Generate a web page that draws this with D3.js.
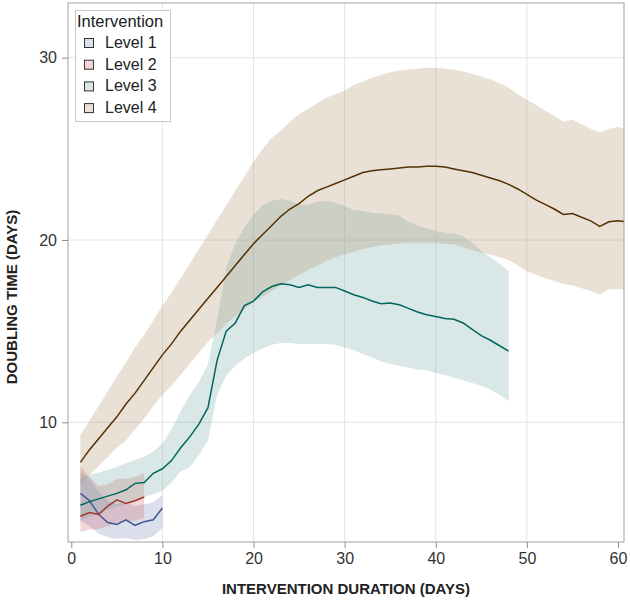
<!DOCTYPE html>
<html><head><meta charset="utf-8">
<script src="https://cdn.jsdelivr.net/npm/d3@7"></script>
<style>body{margin:0;background:#fff}svg{display:block}text{font-family:"Liberation Sans",Arial,sans-serif}</style>
</head><body>
<svg id="c" width="630" height="603"></svg>
<script>
// ---- data ----
const levels = ["Level 1","Level 2","Level 3","Level 4"];
const xTicks = [0,10,20,30,40,50,60];
const yTicks = [10,20,30];

const days1 = [1,2,3,4,5,6,7,8,9,10];
const mean1 = [6.1,5.7,4.95,4.5,4.4,4.65,4.35,4.55,4.65,5.3];
const low1  = [4.6,4.3,3.9,3.7,3.6,3.65,3.55,3.6,3.75,4.2];
const up1   = [7.3,6.9,6.2,5.7,5.5,5.6,5.4,5.5,5.6,6.0];

const days2 = [1,2,3,4,5,6,7,8];
const mean2 = [4.85,5.05,4.95,5.4,5.75,5.55,5.7,5.9];
const low2  = [4.0,4.1,4.15,4.3,4.5,4.55,4.6,4.75];
const up2   = [7.6,7.0,6.5,6.6,6.9,6.9,7.0,7.2];

const days3 = d3.range(1,49);
const mean3 = [5.45,5.65,5.8,5.95,6.1,6.3,6.65,6.7,7.2,7.45,7.9,8.6,9.2,9.9,10.8,13.4,15.0,15.45,16.4,16.65,17.15,17.45,17.6,17.55,17.4,17.55,17.4,17.4,17.4,17.2,17.0,16.85,16.65,16.5,16.55,16.45,16.25,16.05,15.9,15.8,15.7,15.65,15.45,15.1,14.75,14.5,14.2,13.9];
const low3  = [4.6,4.8,5.0,5.2,5.35,5.5,5.7,5.9,6.05,6.25,6.7,7.3,7.55,8.2,9.0,11.5,12.55,13.1,13.5,13.8,14.05,14.25,14.35,14.35,14.3,14.3,14.3,14.3,14.25,14.1,13.95,13.75,13.55,13.35,13.2,13.1,13.0,12.9,12.85,12.7,12.6,12.45,12.3,12.15,12.0,11.8,11.5,11.15];
const up3   = [6.9,7.1,7.25,7.4,7.55,7.75,7.95,8.1,8.4,8.85,9.6,10.6,11.5,12.2,13.2,15.6,18.5,19.8,20.7,21.4,21.9,22.15,22.25,22.15,21.95,21.95,22.1,22.15,22.05,21.85,21.65,21.6,21.5,21.45,21.4,21.35,21.0,20.8,20.65,20.5,20.4,20.35,20.2,19.85,19.4,19.05,18.7,18.3];

const days4 = d3.range(1,62);
const mean4 = [7.8,8.5,9.1,9.7,10.3,11.0,11.6,12.3,13.0,13.7,14.3,15.0,15.6,16.2,16.8,17.4,18.0,18.6,19.2,19.8,20.3,20.8,21.3,21.7,22.0,22.4,22.7,22.9,23.1,23.3,23.5,23.7,23.8,23.85,23.9,23.95,24.0,24.0,24.05,24.05,24.0,23.9,23.8,23.7,23.55,23.4,23.25,23.05,22.8,22.5,22.2,21.95,21.7,21.4,21.45,21.25,21.05,20.75,21.0,21.05,21.0];
const low4  = [6.6,7.1,7.6,8.1,8.6,9.0,9.6,10.2,10.9,11.5,12.0,12.6,13.2,13.8,14.4,14.9,15.4,15.8,16.2,16.6,16.9,17.2,17.5,17.8,18.1,18.35,18.6,18.85,19.05,19.2,19.35,19.5,19.6,19.7,19.75,19.8,19.85,19.85,19.85,19.85,19.8,19.75,19.6,19.45,19.3,19.2,19.05,18.9,18.6,18.3,18.1,17.9,17.75,17.6,17.5,17.35,17.2,17.0,17.3,17.3,17.3];
const up4   = [9.3,10.1,10.9,11.7,12.5,13.3,14.1,14.8,15.6,16.4,17.1,17.9,18.7,19.5,20.3,21.1,21.9,22.7,23.5,24.3,25.0,25.6,26.0,26.5,26.9,27.2,27.5,27.8,28.0,28.2,28.5,28.7,28.9,29.05,29.2,29.3,29.35,29.4,29.45,29.45,29.4,29.35,29.25,29.1,28.95,28.8,28.6,28.35,28.0,27.7,27.4,27.1,26.8,26.5,26.6,26.35,26.1,25.9,26.1,26.2,26.1];

const series = [
  {name:levels[0], days:days1, mean:mean1, low:low1, up:up1},
  {name:levels[1], days:days2, mean:mean2, low:low2, up:up2},
  {name:levels[2], days:days3, mean:mean3, low:low3, up:up3},
  {name:levels[3], days:days4, mean:mean4, low:low4, up:up4}
];
const bandColors = ["#6F7EB3","#D05B5B","#66A5A0","#A9865B"];
const lineColors = ["#445694","#A23A2E","#01665E","#543005"];

// ---- layout ----
const svg = d3.select("#c");
const L = 68, R = 624, T = 3, B = 542;
const x = d3.scaleLinear().domain([0,60]).range([71.3,618]);
const y = d3.scaleLinear().domain([10,30]).range([422.3,57.7]);

svg.append("defs").append("clipPath").attr("id","clip")
  .append("rect").attr("x",L).attr("y",T).attr("width",R-L).attr("height",B-T);

// gridlines
const g = svg.append("g");
g.selectAll(".gx").data(xTicks.filter(d=>d>0&&d<60)).join("line")
  .attr("x1",d=>x(d)).attr("x2",d=>x(d)).attr("y1",T).attr("y2",B)
  .attr("stroke","#E4E4E4").attr("stroke-width",1);
g.selectAll(".gy").data(yTicks).join("line")
  .attr("x1",L).attr("x2",R).attr("y1",d=>y(d)).attr("y2",d=>y(d))
  .attr("stroke","#E4E4E4").attr("stroke-width",1);

const plot = svg.append("g").attr("clip-path","url(#clip)");
const area = d3.area().x(d=>x(d.d)).y0(d=>y(d.l)).y1(d=>y(d.u));
const line = d3.line().x(d=>x(d.d)).y(d=>y(d.m));
series.forEach((s,i)=>{
  const pts = s.days.map((d,k)=>({d:d,m:s.mean[k],l:s.low[k],u:s.up[k]}));
  plot.append("path").datum(pts).attr("d",area)
    .attr("fill",bandColors[i]).attr("fill-opacity",0.25);
});
series.forEach((s,i)=>{
  const pts = s.days.map((d,k)=>({d:d,m:s.mean[k],l:s.low[k],u:s.up[k]}));
  plot.append("path").datum(pts).attr("d",line)
    .attr("fill","none").attr("stroke",lineColors[i]).attr("stroke-width",1.5);
});

// axes
const xa = svg.append("g").attr("transform",`translate(0,${B})`)
  .call(d3.axisBottom(x).tickValues(xTicks).tickSize(6).tickPadding(5));
const ya = svg.append("g").attr("transform",`translate(${L},0)`)
  .call(d3.axisLeft(y).tickValues(yTicks).tickSize(6).tickPadding(5));
[xa,ya].forEach(a=>{
  a.select(".domain").remove();
  a.selectAll(".tick line").attr("stroke","#8C8C8C");
  a.selectAll(".tick text").attr("fill","#333").style("font-size","16px")
    .style("font-family",'"Liberation Sans",Arial,sans-serif');
});

// frame
svg.append("rect").attr("x",L).attr("y",T).attr("width",R-L).attr("height",B-T)
  .attr("fill","none").attr("stroke","#A0A0A0").attr("stroke-width",1);

// axis labels
svg.append("text").attr("x",(L+R)/2).attr("y",594).attr("text-anchor","middle")
  .style("font-size","15px").style("font-weight","bold").attr("fill","#222")
  .text("INTERVENTION DURATION (DAYS)");
svg.append("text").attr("transform","translate(17,297) rotate(-90)").attr("text-anchor","middle")
  .style("font-size","15px").style("font-weight","bold").attr("fill","#222")
  .text("DOUBLING TIME (DAYS)");

// legend
const lg = svg.append("g");
lg.append("rect").attr("x",75.5).attr("y",10.5).attr("width",95).attr("height",111)
  .attr("fill","#fff").attr("stroke","#C8C8C8");
lg.append("text").attr("x",77).attr("y",27).style("font-size","16.5px").attr("fill","#222").text("Intervention");
levels.forEach((n,i)=>{
  const yy = 48 + i*21.7;
  lg.append("rect").attr("x",84.5).attr("y",yy-9.5).attr("width",9).attr("height",9)
    .attr("fill",bandColors[i]).attr("fill-opacity",0.25).attr("stroke","#333").attr("stroke-width",1);
  lg.append("text").attr("x",105).attr("y",yy).style("font-size","16px").attr("fill","#222").text(n);
});
</script>
</body></html>
